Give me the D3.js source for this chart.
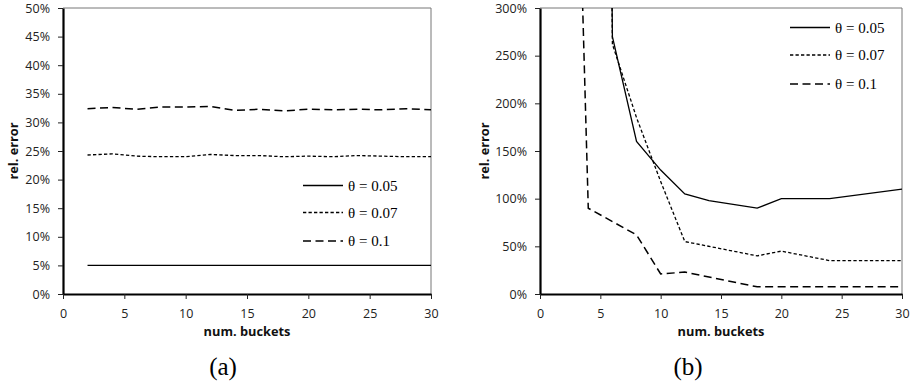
<!DOCTYPE html>
<html>
<head>
<meta charset="utf-8">
<script src="https://cdn.jsdelivr.net/npm/d3@7"></script>
<style>
  body { margin: 0; background: #fff; }
  svg { display: block; }
  .tick text { font-family: "Open Sans", sans-serif; font-size: 12.5px; fill: #222; }
  .axis-title { font-family: "Open Sans", sans-serif; font-size: 12.8px; font-weight: bold; fill: #111; }
  .legend text { font-family: "Liberation Serif", serif; font-size: 15px; fill: #000; }
  .caption { font-family: "Liberation Serif", serif; font-size: 25px; fill: #000; }
</style>
</head>
<body>
<svg id="chart" width="915" height="383"></svg>
<script>
// ---- data ----
const legendLabels = ["θ = 0.05", "θ = 0.07", "θ = 0.1"];
const xTicks = [0, 5, 10, 15, 20, 25, 30];

// panel (a)
const bucketsA = [2, 4, 6, 8, 10, 12, 14, 16, 18, 20, 22, 24, 26, 28, 30];
const errA005 = [0.05, 0.05, 0.05, 0.05, 0.05, 0.05, 0.05, 0.05, 0.05, 0.05, 0.05, 0.05, 0.05, 0.05, 0.05];
const errA007 = [0.243, 0.245, 0.241, 0.240, 0.240, 0.244, 0.242, 0.242, 0.240, 0.241, 0.240, 0.242, 0.241, 0.240, 0.240];
const errA01  = [0.324, 0.326, 0.323, 0.327, 0.327, 0.328, 0.321, 0.323, 0.320, 0.323, 0.322, 0.323, 0.322, 0.324, 0.322];
const yTicksA = [0, 0.05, 0.10, 0.15, 0.20, 0.25, 0.30, 0.35, 0.40, 0.45, 0.50];

// panel (b)
const bucketsB005 = [4, 6, 8, 10, 12, 14, 18, 20, 24, 30];
const errB005 = [30, 2.70, 1.60, 1.30, 1.05, 0.98, 0.90, 1.00, 1.00, 1.10];
const bucketsB007 = [4, 6, 8, 10, 12, 18, 20, 24, 30];
const errB007 = [30, 2.62, 1.85, 1.18, 0.55, 0.40, 0.45, 0.35, 0.35];
const bucketsB01 = [2, 4, 8, 10, 12, 18, 20, 24, 30];
const errB01 = [10, 0.90, 0.62, 0.21, 0.23, 0.075, 0.075, 0.075, 0.075];
const yTicksB = [0, 0.5, 1.0, 1.5, 2.0, 2.5, 3.0];

const dashes = [null, "3.3,2.2", "8,4.5"];

const svg = d3.select("#chart");

function zip(xs, ys) { return xs.map((x, i) => ({x: x, y: ys[i]})); }

function drawPanel(opts) {
    const g = svg.append("g");
    const x = d3.scaleLinear().domain([0, 30]).range([opts.left, opts.right]);
    const y = d3.scaleLinear().domain([0, opts.yMax]).range([294, 8]);

    const clipId = "clip-" + opts.name;
    svg.append("clipPath").attr("id", clipId)
        .append("rect")
        .attr("x", opts.left).attr("y", 8)
        .attr("width", opts.right - opts.left).attr("height", 286);

    // thin top / right frame
    g.append("path")
        .attr("d", `M${opts.left},8H${opts.right}V294`)
        .attr("fill", "none").attr("stroke", "#777").attr("stroke-width", 1);

    const lineGen = d3.line().x(d => x(d.x)).y(d => y(d.y));
    const lines = g.append("g").attr("clip-path", `url(#${clipId})`);
    opts.series.forEach((s, i) => {
        lines.append("path")
            .datum(s)
            .attr("d", lineGen)
            .attr("fill", "none")
            .attr("stroke", "#000")
            .attr("stroke-width", i === 2 ? 1.5 : 1.3)
            .attr("stroke-dasharray", dashes[i]);
    });

    const yAxis = g.append("g")
        .attr("transform", `translate(${opts.left},0)`)
        .call(d3.axisLeft(y).tickValues(opts.yTicks).tickFormat(d3.format(".0%"))
            .tickSize(5).tickSizeOuter(0).tickPadding(8));
    const xAxis = g.append("g")
        .attr("transform", "translate(0,294)")
        .call(d3.axisBottom(x).tickValues(xTicks).tickSize(5).tickSizeOuter(0).tickPadding(10));
    [xAxis, yAxis].forEach(a => {
        a.select(".domain").attr("stroke", "#000").attr("stroke-width", 2.2);
        a.selectAll(".tick line").attr("stroke", "#222");
    });

    g.append("text").attr("class", "axis-title")
        .attr("x", (opts.left + opts.right) / 2).attr("y", 336)
        .attr("text-anchor", "middle").text("num. buckets");
    g.append("text").attr("class", "axis-title")
        .attr("transform", `translate(${opts.titleX},151) rotate(-90)`)
        .attr("text-anchor", "middle").text("rel. error");

    const leg = g.append("g").attr("class", "legend");
    legendLabels.forEach((lab, i) => {
        const ly = opts.legendY[i];
        leg.append("line")
            .attr("x1", opts.legendX).attr("x2", opts.legendX + 40)
            .attr("y1", ly).attr("y2", ly)
            .attr("stroke", "#000").attr("stroke-width", 1.3)
            .attr("stroke-dasharray", dashes[i]);
        leg.append("text").attr("x", opts.legendX + 45).attr("y", ly + 5).text(lab);
    });

    g.append("text").attr("class", "caption")
        .attr("x", opts.captionX).attr("y", 375)
        .attr("text-anchor", "middle").text(opts.caption);
}

drawPanel({
    name: "a", left: 63, right: 431, yMax: 0.5, yTicks: yTicksA,
    series: [zip(bucketsA, errA005), zip(bucketsA, errA007), zip(bucketsA, errA01)],
    legendX: 303, legendY: [185.5, 212.5, 241], titleX: 17.5,
    captionX: 223, caption: "(a)"
});

drawPanel({
    name: "b", left: 540, right: 902, yMax: 3.0, yTicks: yTicksB,
    series: [zip(bucketsB005, errB005), zip(bucketsB007, errB007), zip(bucketsB01, errB01)],
    legendX: 790, legendY: [27.5, 55, 84], titleX: 488.5,
    captionX: 688, caption: "(b)"
});
</script>
</body>
</html>
